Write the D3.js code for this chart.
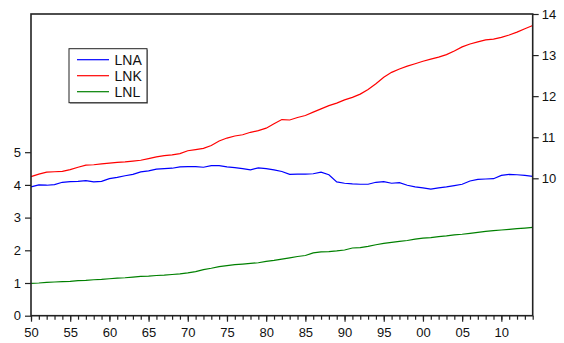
<!DOCTYPE html>
<html>
<head>
<meta charset="utf-8">
<script src="https://cdn.jsdelivr.net/npm/d3@7"></script>
<style>
  html, body { margin: 0; padding: 0; background: #fff; }
  svg { display: block; font-family: "Liberation Sans", Arial, sans-serif; }
</style>
</head>
<body>
<svg id="chart" width="564" height="343"></svg>
<script>
// Annual observations, 1950-2014
const years = d3.range(1950, 2015);

const lna = [
  3.94, 4.00, 3.99, 4.01, 4.08, 4.10, 4.11, 4.13, 4.09, 4.11,
  4.19, 4.23, 4.28, 4.32, 4.40, 4.43, 4.48, 4.50, 4.51, 4.55,
  4.56, 4.56, 4.54, 4.59, 4.59, 4.55, 4.53, 4.50, 4.46, 4.52,
  4.50, 4.46, 4.41, 4.32, 4.33, 4.33, 4.34, 4.39, 4.31, 4.09,
  4.05, 4.03, 4.02, 4.02, 4.08, 4.10, 4.05, 4.07, 3.99, 3.94,
  3.91, 3.87, 3.91, 3.94, 3.98, 4.02, 4.12, 4.17, 4.18, 4.19,
  4.29, 4.32, 4.31, 4.29, 4.26
];

const lnk = [
  10.04, 10.10, 10.15, 10.16, 10.17, 10.21, 10.27, 10.32, 10.33, 10.35,
  10.37, 10.39, 10.40, 10.42, 10.44, 10.48, 10.52, 10.55, 10.57, 10.60,
  10.67, 10.70, 10.73, 10.80, 10.91, 10.98, 11.03, 11.06, 11.12, 11.16,
  11.22, 11.33, 11.43, 11.42, 11.48, 11.53, 11.61, 11.69, 11.77, 11.83,
  11.91, 11.97, 12.05, 12.16, 12.30, 12.46, 12.58, 12.66, 12.73, 12.79,
  12.85, 12.90, 12.95, 13.01, 13.10, 13.20, 13.27, 13.32, 13.37, 13.39,
  13.43, 13.49, 13.56, 13.64, 13.72
];

const lnl = [
  0.99, 1.00, 1.02, 1.03, 1.04, 1.05, 1.07, 1.08, 1.10, 1.11,
  1.13, 1.15, 1.16, 1.18, 1.20, 1.21, 1.23, 1.24, 1.26, 1.28,
  1.31, 1.35, 1.41, 1.45, 1.50, 1.53, 1.56, 1.58, 1.60, 1.62,
  1.66, 1.69, 1.73, 1.77, 1.81, 1.84, 1.92, 1.95, 1.96, 1.98,
  2.01, 2.07, 2.08, 2.12, 2.17, 2.21, 2.24, 2.27, 2.30, 2.34,
  2.37, 2.39, 2.42, 2.44, 2.47, 2.49, 2.52, 2.55, 2.58, 2.60,
  2.62, 2.64, 2.66, 2.68, 2.70
];

const leftTicks = [0, 1, 2, 3, 4, 5];
const rightTicks = [10, 11, 12, 13, 14];
const majorYears = d3.range(1950, 2015, 5);

const seriesNames = ["LNA", "LNK", "LNL"];
const seriesColors = ["#0000ff", "#ff0000", "#008000"];

// Plot area
const L = 31, R = 532.7, T = 14, B = 315.7;

const svg = d3.select("#chart");

const x = d3.scaleLinear().domain([1950, 2014]).range([L, R]);
const yLeft = d3.scaleLinear().domain([0, 9.226]).range([B, T]);
const yRight = d3.scaleLinear().domain([6.655, 14]).range([B, T]);

const lineLeft = d3.line().x(d => x(d[0])).y(d => yLeft(d[1]));
const lineRight = d3.line().x(d => x(d[0])).y(d => yRight(d[1]));

const zip = arr => years.map((yr, i) => [yr, arr[i]]);

// Series
svg.append("path").datum(zip(lnl))
  .attr("d", lineLeft).attr("fill", "none")
  .attr("stroke", seriesColors[2]).attr("stroke-width", 1.2);
svg.append("path").datum(zip(lna))
  .attr("d", lineLeft).attr("fill", "none")
  .attr("stroke", seriesColors[0]).attr("stroke-width", 1.2);
svg.append("path").datum(zip(lnk))
  .attr("d", lineRight).attr("fill", "none")
  .attr("stroke", seriesColors[1]).attr("stroke-width", 1.2);

// Frame
svg.append("rect")
  .attr("x", L).attr("y", T)
  .attr("width", R - L).attr("height", B - T)
  .attr("fill", "none").attr("stroke", "#222").attr("stroke-width", 1.6);

// Bottom axis: yearly minor ticks, labelled ticks every five years
const xMinor = d3.axisBottom(x).tickValues(years).tickSize(4).tickFormat("");
const gMinor = svg.append("g").attr("transform", `translate(0,${B})`).call(xMinor);
gMinor.select(".domain").remove();
gMinor.selectAll("line").attr("stroke", "#222").attr("stroke-width", 1.2);

const xMajor = d3.axisBottom(x).tickValues(majorYears).tickSize(6).tickPadding(6)
  .tickFormat(d => String(d % 100).padStart(2, "0"));
const gMajor = svg.append("g").attr("transform", `translate(0,${B})`).call(xMajor);
gMajor.select(".domain").remove();
gMajor.selectAll("line").attr("stroke", "#222").attr("stroke-width", 1.2);
gMajor.selectAll("text").attr("font-size", 13).attr("fill", "#111")
  .attr("font-family", "Liberation Sans, Arial, sans-serif");

// Left axis
const gL = svg.append("g").attr("transform", `translate(${L},0)`)
  .call(d3.axisLeft(yLeft).tickValues(leftTicks).tickSize(6).tickPadding(4).tickFormat(d3.format("d")));
gL.select(".domain").remove();
gL.selectAll("line").attr("stroke", "#222").attr("stroke-width", 1.2);
gL.selectAll("text").attr("font-size", 13).attr("fill", "#111")
  .attr("font-family", "Liberation Sans, Arial, sans-serif");

// Right axis
const gR = svg.append("g").attr("transform", `translate(${R},0)`)
  .call(d3.axisRight(yRight).tickValues(rightTicks).tickSize(6).tickPadding(3).tickFormat(d3.format("d")));
gR.select(".domain").remove();
gR.selectAll("line").attr("stroke", "#222").attr("stroke-width", 1.2);
gR.selectAll("text").attr("font-size", 13).attr("fill", "#111")
  .attr("font-family", "Liberation Sans, Arial, sans-serif");

// Legend
const legend = svg.append("g").attr("transform", "translate(69,48.7)");
legend.append("rect").attr("x", 1).attr("y", 1).attr("width", 78).attr("height", 54)
  .attr("fill", "#999");
legend.append("rect").attr("x", 0).attr("y", 0).attr("width", 78).attr("height", 54)
  .attr("fill", "#fff").attr("stroke", "#222").attr("stroke-width", 1);
seriesNames.forEach((name, i) => {
  const cy = 11 + i * 16;
  legend.append("line").attr("x1", 8).attr("x2", 40).attr("y1", cy).attr("y2", cy)
    .attr("stroke", seriesColors[i]).attr("stroke-width", 1.2);
  legend.append("text").attr("x", 45.5).attr("y", cy).attr("dy", "0.36em")
    .attr("font-size", 14).attr("fill", "#111").text(name);
});
</script>
</body>
</html>
